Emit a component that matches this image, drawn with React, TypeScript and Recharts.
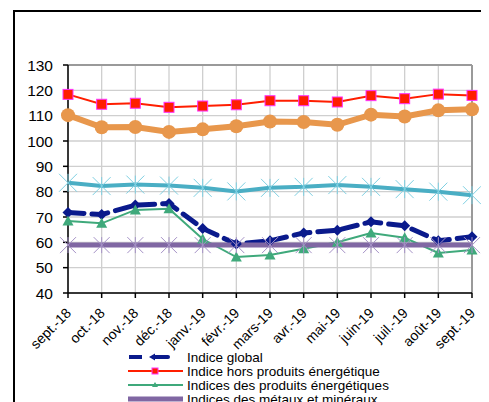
import { LineChart, Line, XAxis, YAxis, CartesianGrid, Legend, ReferenceLine } from 'recharts';

const months = ['sept.-18', 'oct.-18', 'nov.-18', 'déc.-18', 'janv.-19', 'févr.-19', 'mars-19', 'avr.-19', 'mai-19', 'juin-19', 'juil.-19', 'août-19', 'sept.-19'];
const indiceGlobal = [71.8, 71.0, 74.7, 75.3, 65.5, 59.3, 60.6, 63.7, 64.8, 68.1, 66.5, 60.6, 62.2];
const horsEnergie = [118.4, 114.5, 114.9, 113.3, 113.8, 114.3, 115.9, 115.9, 115.4, 117.9, 116.7, 118.5, 118.0];
const energie = [68.4, 67.5, 72.8, 73.3, 61.3, 54.2, 55.0, 57.5, 60.0, 63.7, 61.8, 55.8, 57.0];
const metaux = [58.9, 58.9, 58.9, 58.9, 58.9, 58.9, 58.9, 58.9, 58.9, 58.9, 58.9, 58.9, 58.9];
const alimentaires = [110.2, 105.4, 105.5, 103.6, 104.6, 105.8, 107.7, 107.5, 106.4, 110.4, 109.7, 112.1, 112.5];
const agricoles = [83.5, 82.2, 82.8, 82.4, 81.5, 80.1, 81.5, 81.9, 82.6, 81.9, 81.0, 80.0, 78.6];
const yTicks = [40, 50, 60, 70, 80, 90, 100, 110, 120, 130];

const data = months.map((m, i) => ({
  month: m,
  global: indiceGlobal[i],
  hors: horsEnergie[i],
  energie: energie[i],
  metaux: metaux[i],
  alim: alimentaires[i],
  agri: agricoles[i],
}));

const FONT = 'Liberation Sans, Arial, sans-serif';
const NAVY = '#0a1a8c';
const RED = '#ff1e00';
const GREEN = '#3fa97b';
const PURPLE = '#8067a3';
const ORANGE = '#e8974c';
const TEAL = '#4aaec4';

const XTick = (props: any) => {
  const { x, y, payload } = props;
  const tx = x + 4;
  const ty = y + 14;
  return (
    <text x={tx} y={ty} transform={`rotate(-45 ${tx} ${ty})`} textAnchor="end" fontSize={14} fontFamily={FONT} fill="#000">
      {payload.value}
    </text>
  );
};

const Diamond = (props: any) => {
  const { cx, cy } = props;
  if (cx == null || cy == null) return null;
  return <path d={`M${cx},${cy - 5.5} L${cx + 5.5},${cy} L${cx},${cy + 5.5} L${cx - 5.5},${cy} Z`} fill={NAVY} />;
};

const Square = (props: any) => {
  const { cx, cy } = props;
  if (cx == null || cy == null) return null;
  return <rect x={cx - 5} y={cy - 5} width={10} height={10} fill={RED} stroke="#ff33ff" strokeWidth={1} />;
};

const Triangle = (props: any) => {
  const { cx, cy } = props;
  if (cx == null || cy == null) return null;
  return <path d={`M${cx},${cy - 5.5} L${cx + 5.5},${cy + 4.5} L${cx - 5.5},${cy + 4.5} Z`} fill={GREEN} />;
};

const Star = (color: string, r: number) => (props: any) => {
  const { cx, cy } = props;
  if (cx == null || cy == null) return null;
  return (
    <g stroke={color} strokeWidth={1}>
      <line x1={cx - r} y1={cy - r} x2={cx + r} y2={cy + r} />
      <line x1={cx - r} y1={cy + r} x2={cx + r} y2={cy - r} />
      <line x1={cx} y1={cy - r} x2={cx} y2={cy + r} />
    </g>
  );
};

const Circle = (props: any) => {
  const { cx, cy } = props;
  if (cx == null || cy == null) return null;
  return <circle cx={cx} cy={cy} r={7} fill={ORANGE} />;
};

const legendRows = [
  { name: 'Indice global', color: NAVY },
  { name: 'Indice hors produits énergétique', color: RED },
  { name: 'Indices des produits énergétiques', color: GREEN },
  { name: 'Indices des métaux et minéraux', color: PURPLE },
  { name: 'Indice des produits alimentaires', color: ORANGE },
  { name: 'Indice des matières premières agricoles', color: TEAL },
];

const LegendBox = () => (
  <svg width={340} height={legendRows.length * 14}>
    {legendRows.map((r, i) => {
      const cy = i * 14 + 7;
      let sample: any = null;
      if (i === 0) {
        sample = (
          <g>
            <line x1={1} y1={cy} x2={14} y2={cy} stroke={NAVY} strokeWidth={4} />
            <line x1={26} y1={cy} x2={40} y2={cy} stroke={NAVY} strokeWidth={4} strokeLinecap="round" />
            <path d={`M21,${cy} L27,${cy - 3.5} L27,${cy + 3.5} Z`} fill={NAVY} />
          </g>
        );
      } else if (i === 1) {
        sample = (
          <g>
            <line x1={0} y1={cy} x2={55} y2={cy} stroke={RED} strokeWidth={2} />
            <rect x={24} y={cy - 3} width={6} height={6} fill={RED} stroke="#ff33ff" />
          </g>
        );
      } else if (i === 2) {
        sample = (
          <g>
            <line x1={0} y1={cy} x2={55} y2={cy} stroke={GREEN} strokeWidth={2} />
            <path d={`M27,${cy - 3} L30,${cy + 2} L24,${cy + 2} Z`} fill={GREEN} />
          </g>
        );
      } else if (i === 3) {
        sample = <line x1={0} y1={cy} x2={55} y2={cy} stroke={PURPLE} strokeWidth={5} />;
      } else if (i === 4) {
        sample = (
          <g>
            <line x1={0} y1={cy} x2={55} y2={cy} stroke={ORANGE} strokeWidth={5} />
            <circle cx={27} cy={cy} r={4} fill={ORANGE} />
          </g>
        );
      } else {
        sample = <line x1={0} y1={cy} x2={55} y2={cy} stroke={TEAL} strokeWidth={4} />;
      }
      return (
        <g key={r.name}>
          {sample}
          <text x={59} y={cy + 5} fontSize={13.5} fontFamily={FONT} fill="#000">{r.name}</text>
        </g>
      );
    })}
  </svg>
);

export default function App() {
  return (
    <div style={{ marginLeft: 5, marginTop: 2, width: 520, height: 470, border: '2px solid #000', boxSizing: 'border-box', background: '#fff' }}>
      <LineChart width={516} height={460} data={data} margin={{ top: 53, right: 59, left: 3, bottom: 119 }}>
        <CartesianGrid stroke="#cfcfcf" strokeWidth={1.3} />
        <XAxis
          dataKey="month"
          interval={0}
          height={60}
          tick={<XTick />}
          tickSize={5}
          stroke="#000"
          strokeWidth={1.5}
          tickLine={{ stroke: '#000' }}
        />
        <YAxis
          domain={[40, 130]}
          ticks={yTicks}
          width={50}
          tickSize={5}
          tickMargin={10}
          stroke="#000"
          strokeWidth={1.5}
          tick={{ fontSize: 15.5, fontFamily: FONT, fill: '#000' }}
          allowDataOverflow
        />
        <ReferenceLine y={130} stroke="#9a9a9a" strokeWidth={2} />
        <ReferenceLine x="sept.-19" stroke="#9a9a9a" strokeWidth={2} />
        <Line dataKey="global" stroke={NAVY} strokeWidth={5} strokeDasharray="16 8" strokeLinecap="round" dot={<Diamond />} isAnimationActive={false} />
        <Line dataKey="hors" stroke={RED} strokeWidth={2} dot={<Square />} isAnimationActive={false} />
        <Line dataKey="energie" stroke={GREEN} strokeWidth={2} dot={<Triangle />} isAnimationActive={false} />
        <Line dataKey="metaux" stroke={PURPLE} strokeWidth={5} dot={Star('#a592c6', 8)} isAnimationActive={false} />
        <Line dataKey="alim" stroke={ORANGE} strokeWidth={6} dot={<Circle />} isAnimationActive={false} />
        <Line dataKey="agri" stroke={TEAL} strokeWidth={4} dot={Star('#7fd0e2', 9)} isAnimationActive={false} />
        <Legend layout="horizontal" verticalAlign="middle" align="center" wrapperStyle={{ top: 338, left: 113, width: 340 }} content={() => <LegendBox />} />
      </LineChart>
    </div>
  );
}
